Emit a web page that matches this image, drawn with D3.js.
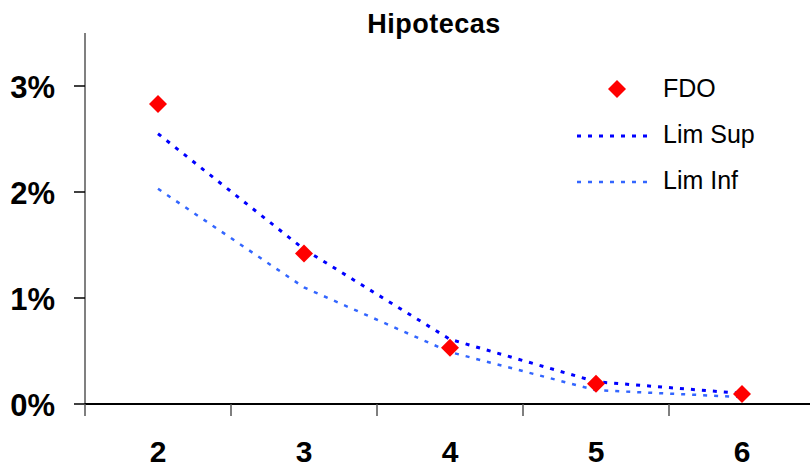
<!DOCTYPE html>
<html lang="es">
<head>
  <meta charset="UTF-8">
  <title>Hipotecas</title>
  <script src="https://d3js.org/d3.v7.min.js"></script>
  <style>
    body {
      margin: 0;
      background: #fff;
      font-family: 'Liberation Sans', Arial, sans-serif;
    }
    svg { display: block; }
  </style>
</head>
<body>
  <svg width="810" height="468"></svg>

  <script>
    // data
    const categories = [2, 3, 4, 5, 6];
    const fdo    = [0.0283, 0.0142, 0.0053, 0.0019, 0.00094];
    const limSup = [0.0255, 0.0146, 0.0061, 0.0021, 0.0010];
    const limInf = [0.0203, 0.0110, 0.0049, 0.0013, 0.00066];
    const yTicks = [0, 0.01, 0.02, 0.03];

    const svg = d3.select("svg");

    const x = d3.scaleBand()
      .domain(categories)
      .range([85, 815]);

    const y = d3.scaleLinear()
      .domain([0, 0.035])
      .range([404, 33]);

    const cx = d => x(d) + x.bandwidth() / 2;
    const pct = d3.format(".0%");

    // title
    svg.append("text")
      .attr("x", 434)
      .attr("y", 33)
      .attr("text-anchor", "middle")
      .style("font-size", "27px")
      .style("font-weight", "bold")
      .style("letter-spacing", "0.5px")
      .text("Hipotecas");

    // y axis
    svg.append("line")
      .attr("x1", 85).attr("x2", 85)
      .attr("y1", y(0.035)).attr("y2", y(0))
      .attr("stroke", "#808080")
      .attr("stroke-width", 2);

    svg.selectAll(".ytick")
      .data(yTicks)
      .enter().append("line")
        .attr("class", "ytick")
        .attr("x1", 74).attr("x2", 85)
        .attr("y1", d => y(d)).attr("y2", d => y(d))
        .attr("stroke", "#000")
        .attr("stroke-width", 1.5);

    svg.selectAll(".ylabel")
      .data(yTicks)
      .enter().append("text")
        .attr("class", "ylabel")
        .attr("x", 55)
        .attr("y", d => y(d) + 12)
        .attr("text-anchor", "end")
        .style("font-size", "31px")
        .style("font-weight", "bold")
        .text(d => pct(d));

    // x axis
    svg.append("line")
      .attr("x1", 85).attr("x2", 810)
      .attr("y1", y(0)).attr("y2", y(0))
      .attr("stroke", "#000")
      .attr("stroke-width", 2);

    svg.selectAll(".xtick")
      .data(categories)
      .enter().append("line")
        .attr("class", "xtick")
        .attr("x1", d => x(d)).attr("x2", d => x(d))
        .attr("y1", y(0)).attr("y2", y(0) + 12)
        .attr("stroke", "#555")
        .attr("stroke-width", 1.5);

    svg.selectAll(".xlabel")
      .data(categories)
      .enter().append("text")
        .attr("class", "xlabel")
        .attr("x", d => cx(d))
        .attr("y", 462)
        .attr("text-anchor", "middle")
        .style("font-size", "30px")
        .style("font-weight", "bold")
        .text(d => d);

    // limit lines
    const line = d3.line()
      .x((d, i) => cx(categories[i]))
      .y(d => y(d));

    svg.append("path")
      .datum(limInf)
      .attr("fill", "none")
      .attr("stroke", "#3366ff")
      .attr("stroke-width", 2.5)
      .attr("stroke-dasharray", "4,7")
      .attr("d", line);

    svg.append("path")
      .datum(limSup)
      .attr("fill", "none")
      .attr("stroke", "#0000ff")
      .attr("stroke-width", 3)
      .attr("stroke-dasharray", "4,7")
      .attr("d", line);

    // FDO markers
    const diamond = s => `M0,${-s}L${s},0L0,${s}L${-s},0Z`;

    svg.selectAll(".dot")
      .data(fdo)
      .enter().append("path")
        .attr("class", "dot")
        .attr("transform", (d, i) => `translate(${cx(categories[i])},${y(d)})`)
        .attr("d", diamond(9))
        .attr("fill", "#ff0000");

    // legend
    const legend = svg.append("g");

    legend.append("path")
      .attr("transform", "translate(617,89)")
      .attr("d", diamond(9))
      .attr("fill", "#ff0000");

    legend.append("line")
      .attr("x1", 577).attr("x2", 654)
      .attr("y1", 136).attr("y2", 136)
      .attr("stroke", "#0000ff")
      .attr("stroke-width", 3)
      .attr("stroke-dasharray", "4,7");

    legend.append("line")
      .attr("x1", 577).attr("x2", 654)
      .attr("y1", 182).attr("y2", 182)
      .attr("stroke", "#3366ff")
      .attr("stroke-width", 2.5)
      .attr("stroke-dasharray", "4,7");

    legend.selectAll(".ltext")
      .data([["FDO", 97], ["Lim Sup", 143], ["Lim Inf", 189]])
      .enter().append("text")
        .attr("class", "ltext")
        .attr("x", 663)
        .attr("y", d => d[1])
        .style("font-size", "25px")
        .text(d => d[0]);
  </script>
</body>
</html>
